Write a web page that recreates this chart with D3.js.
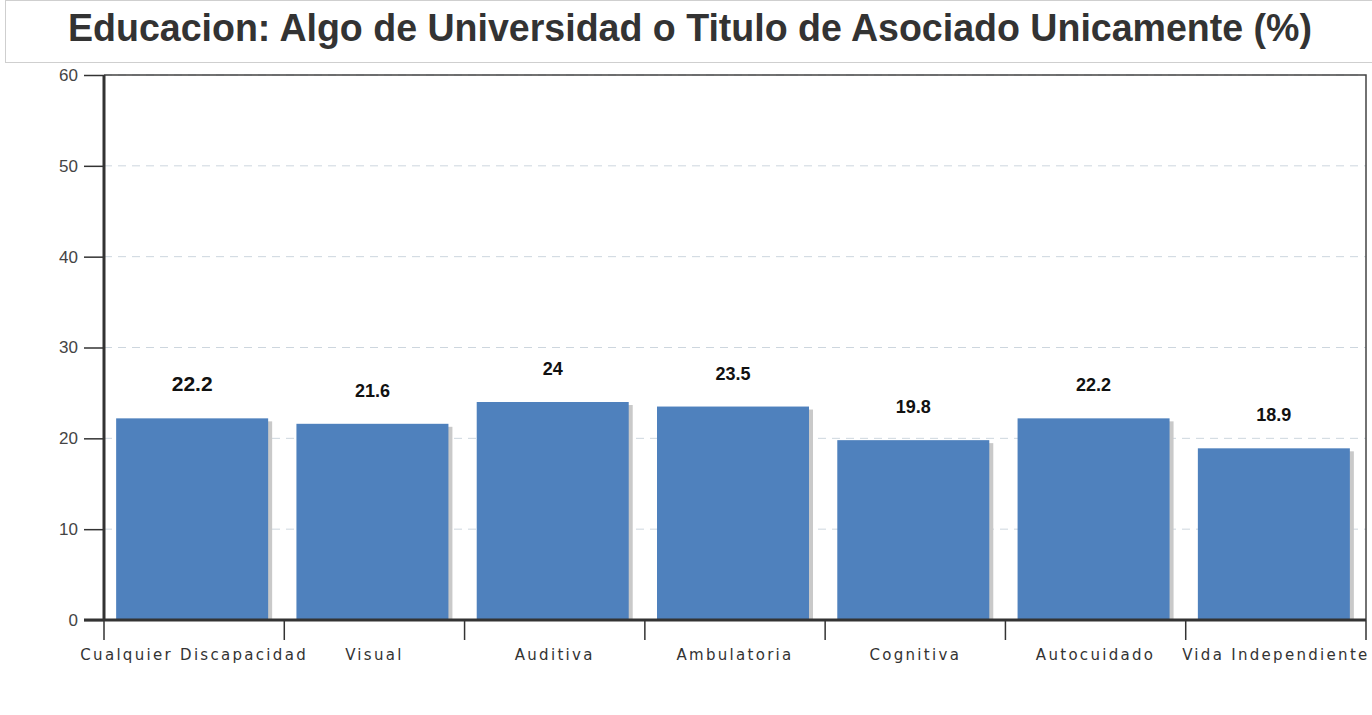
<!DOCTYPE html>
<html>
<head>
<meta charset="utf-8">
<script src="https://cdn.jsdelivr.net/npm/d3@7"></script>
<style>
  body { margin: 0; background: #fff; }
  svg { display: block; font-family: "Liberation Sans", Arial, sans-serif; }
</style>
</head>
<body>
<svg id="chart" width="1372" height="715"></svg>
<script>
"use strict";

const title = "Educacion: Algo de Universidad o Titulo de Asociado Unicamente (%)";
const categories = ["Cualquier Discapacidad", "Visual", "Auditiva", "Ambulatoria",
                    "Cognitiva", "Autocuidado", "Vida Independiente"];
const values = [22.2, 21.6, 24, 23.5, 19.8, 22.2, 18.9];
const yTicks = [0, 10, 20, 30, 40, 50, 60];

const svg = d3.select("#chart");
const plotLeft = 104, plotRight = 1366, plotTop = 75, plotBottom = 620;

// title box
svg.append("rect")
    .attr("x", 5.5).attr("y", 0.5)
    .attr("width", 1380).attr("height", 62)
    .attr("fill", "#fff")
    .attr("stroke", "#cfcfcf");
svg.append("text")
    .attr("x", 690).attr("y", 41)
    .attr("text-anchor", "middle")
    .attr("textLength", 1244)
    .attr("lengthAdjust", "spacingAndGlyphs")
    .style("font-size", "38px")
    .style("font-weight", "bold")
    .style("fill", "#333")
    .text(title);

const x = d3.scaleBand().domain(categories).range([plotLeft, plotRight]);
const y = d3.scaleLinear().domain([0, 60]).range([plotBottom, plotTop]);

// gridlines
svg.append("g")
    .selectAll("line")
    .data(yTicks.filter(d => d > 0))
    .enter()
    .append("line")
    .attr("x1", plotLeft).attr("x2", plotRight)
    .attr("y1", d => y(d)).attr("y2", d => y(d))
    .attr("stroke", "#cdd6de")
    .attr("stroke-dasharray", "8,6");

// bars with a shadow on the right
const barW = 152;
const bars = svg.append("g").selectAll("g")
    .data(values)
    .enter()
    .append("g");

bars.append("rect")
    .attr("x", (d, i) => x(categories[i]) + x.bandwidth() / 2 - barW / 2 + 2)
    .attr("y", d => y(d) + 3)
    .attr("width", barW)
    .attr("height", d => plotBottom - y(d) - 3)
    .attr("fill", "#c9c9c9");

bars.append("rect")
    .attr("x", (d, i) => x(categories[i]) + x.bandwidth() / 2 - barW / 2 - 2)
    .attr("y", d => y(d))
    .attr("width", barW)
    .attr("height", d => plotBottom - y(d))
    .attr("fill", "#4f81bd");

bars.append("text")
    .attr("x", (d, i) => x(categories[i]) + x.bandwidth() / 2 - 2)
    .attr("y", d => y(d) - 27)
    .attr("text-anchor", "middle")
    .style("font-size", (d, i) => i === 0 ? "21px" : "18px")
    .style("font-weight", "bold")
    .style("fill", "#111")
    .text(d => d);

// plot frame: top and right thin
svg.append("path")
    .attr("d", `M${plotLeft},${plotTop}H${plotRight}V${plotBottom}`)
    .attr("fill", "none")
    .attr("stroke", "#444")
    .attr("stroke-width", 1.5);

// y axis
const yAxis = svg.append("g")
    .attr("transform", `translate(${plotLeft},0)`)
    .call(d3.axisLeft(y).tickValues(yTicks).tickSize(20).tickPadding(6));
yAxis.select(".domain").attr("stroke", "#333").attr("stroke-width", 3)
    .attr("d", `M0,${plotTop}V${plotBottom + 1}`);
yAxis.selectAll(".tick line").attr("stroke", "#333").attr("stroke-width", 1.5);
yAxis.selectAll(".tick text")
    .style("font-size", "17px")
    .style("fill", "#444")
    .style("font-family", "'Liberation Sans', Arial, sans-serif");

// x axis
const xAxis = svg.append("g")
    .attr("transform", `translate(0,${plotBottom})`)
    .call(d3.axisBottom(x).tickSize(0).tickPadding(29));
xAxis.select(".domain").attr("stroke", "#333").attr("stroke-width", 3)
    .attr("d", `M${plotLeft - 20},0H${plotRight}`);
xAxis.selectAll(".tick text")
    .style("letter-spacing", "2.3px")
    .style("fill", "#333")
    .style("font-family", "'DejaVu Sans', Verdana, sans-serif")
    .style("font-size", "15px");

// boundary ticks between categories
svg.append("g")
    .selectAll("line")
    .data(categories.map(c => x(c)).concat([plotRight]))
    .enter()
    .append("line")
    .attr("x1", d => d).attr("x2", d => d)
    .attr("y1", plotBottom).attr("y2", plotBottom + 20)
    .attr("stroke", "#333")
    .attr("stroke-width", 1.5);
</script>
</body>
</html>
